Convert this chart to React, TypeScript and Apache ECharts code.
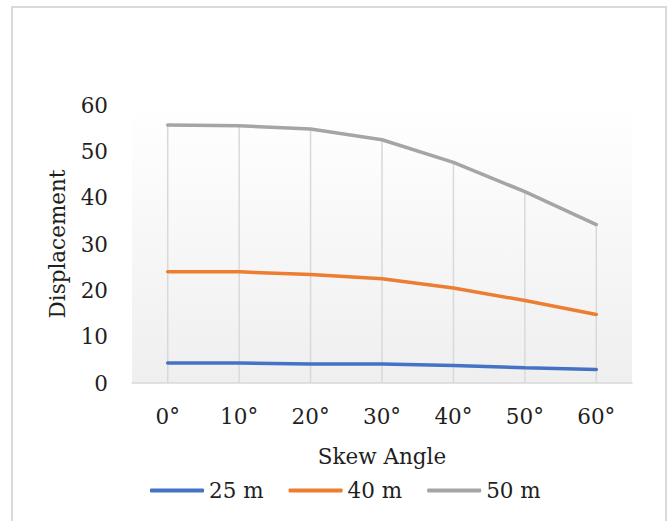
import React, { useEffect, useRef } from "react";
import * as echarts from "echarts";

const categories = ["0°", "10°", "20°", "30°", "40°", "50°", "60°"];
const s25 = [4.3, 4.3, 4.1, 4.1, 3.8, 3.3, 2.9];
const s40 = [24.0, 24.0, 23.4, 22.5, 20.5, 17.8, 14.8];
const s50 = [55.7, 55.5, 54.8, 52.5, 47.6, 41.3, 34.2];
const yTicks = { min: 0, max: 60, interval: 10 };

const FONT = "DejaVu Serif";
const TXT = "#1f1f1f";

export default function App() {
  const ref = useRef<HTMLDivElement>(null);
  useEffect(() => {
    if (!ref.current) return;
    const chart = echarts.init(ref.current, null, { renderer: "svg" });
    const dropLine = s25.map((_, i) => Math.max(s25[i], s40[i], s50[i]));
    chart.setOption({
      animation: false,
      backgroundColor: "#ffffff",
      textStyle: { fontFamily: FONT },
      graphic: [
        {
          type: "rect",
          shape: { x: 12, y: 7, width: 654, height: 530 },
          style: { fill: "none", stroke: "#d9d9d9", lineWidth: 2 },
          silent: true,
          z: -10,
        },
      ],
      grid: {
        left: 132,
        right: 40,
        top: 105,
        bottom: 138,
        show: true,
        borderWidth: 0,
        backgroundColor: new echarts.graphic.LinearGradient(0, 0, 0, 1, [
          { offset: 0, color: "#ffffff" },
          { offset: 1, color: "#efefef" },
        ]),
      },
      legend: {
        data: ["25 m", "40 m", "50 m"],
        left: 145,
        top: 473,
        icon: "roundRect",
        itemWidth: 54,
        itemHeight: 4,
        itemGap: 25,
        textStyle: { fontFamily: FONT, fontSize: 21.5, color: TXT, lineHeight: 25 },
      },
      xAxis: {
        type: "category",
        data: categories,
        boundaryGap: true,
        name: "Skew Angle",
        nameLocation: "middle",
        nameGap: 62,
        nameTextStyle: { fontFamily: FONT, fontSize: 21.5, color: TXT },
        axisLine: { show: true, lineStyle: { color: "#d9d9d9", width: 1.5 } },
        axisTick: { show: false },
        splitLine: { show: false },
        axisLabel: { fontFamily: FONT, fontSize: 21.5, color: TXT, margin: 22 },
      },
      yAxis: {
        type: "value",
        min: yTicks.min,
        max: yTicks.max,
        interval: yTicks.interval,
        name: "Displacement",
        nameLocation: "middle",
        nameGap: 64,
        nameRotate: 90,
        nameTextStyle: { fontFamily: FONT, fontSize: 21.5, color: TXT },
        axisLine: { show: false },
        axisTick: { show: false },
        splitLine: { show: false },
        axisLabel: { fontFamily: FONT, fontSize: 21.5, color: TXT, margin: 24 },
      },
      series: [
        {
          name: "drop",
          type: "bar",
          data: dropLine,
          barWidth: 1.5,
          itemStyle: { color: "#d9d9d9" },
          silent: true,
          z: 1,
        },
        {
          name: "25 m",
          type: "line",
          data: s25,
          symbol: "none",
          lineStyle: { color: "#4472C4", width: 3.5, cap: "round" },
          itemStyle: { color: "#4472C4" },
          z: 3,
        },
        {
          name: "40 m",
          type: "line",
          data: s40,
          symbol: "none",
          lineStyle: { color: "#ED7D31", width: 3.5, cap: "round" },
          itemStyle: { color: "#ED7D31" },
          z: 3,
        },
        {
          name: "50 m",
          type: "line",
          data: s50,
          symbol: "none",
          lineStyle: { color: "#A5A5A5", width: 3.5, cap: "round" },
          itemStyle: { color: "#A5A5A5" },
          z: 3,
        },
      ],
    });
    return () => chart.dispose();
  }, []);
  return (
    <div
      ref={ref}
      style={{ position: "absolute", left: 0, top: 0, width: 672, height: 521 }}
    />
  );
}
